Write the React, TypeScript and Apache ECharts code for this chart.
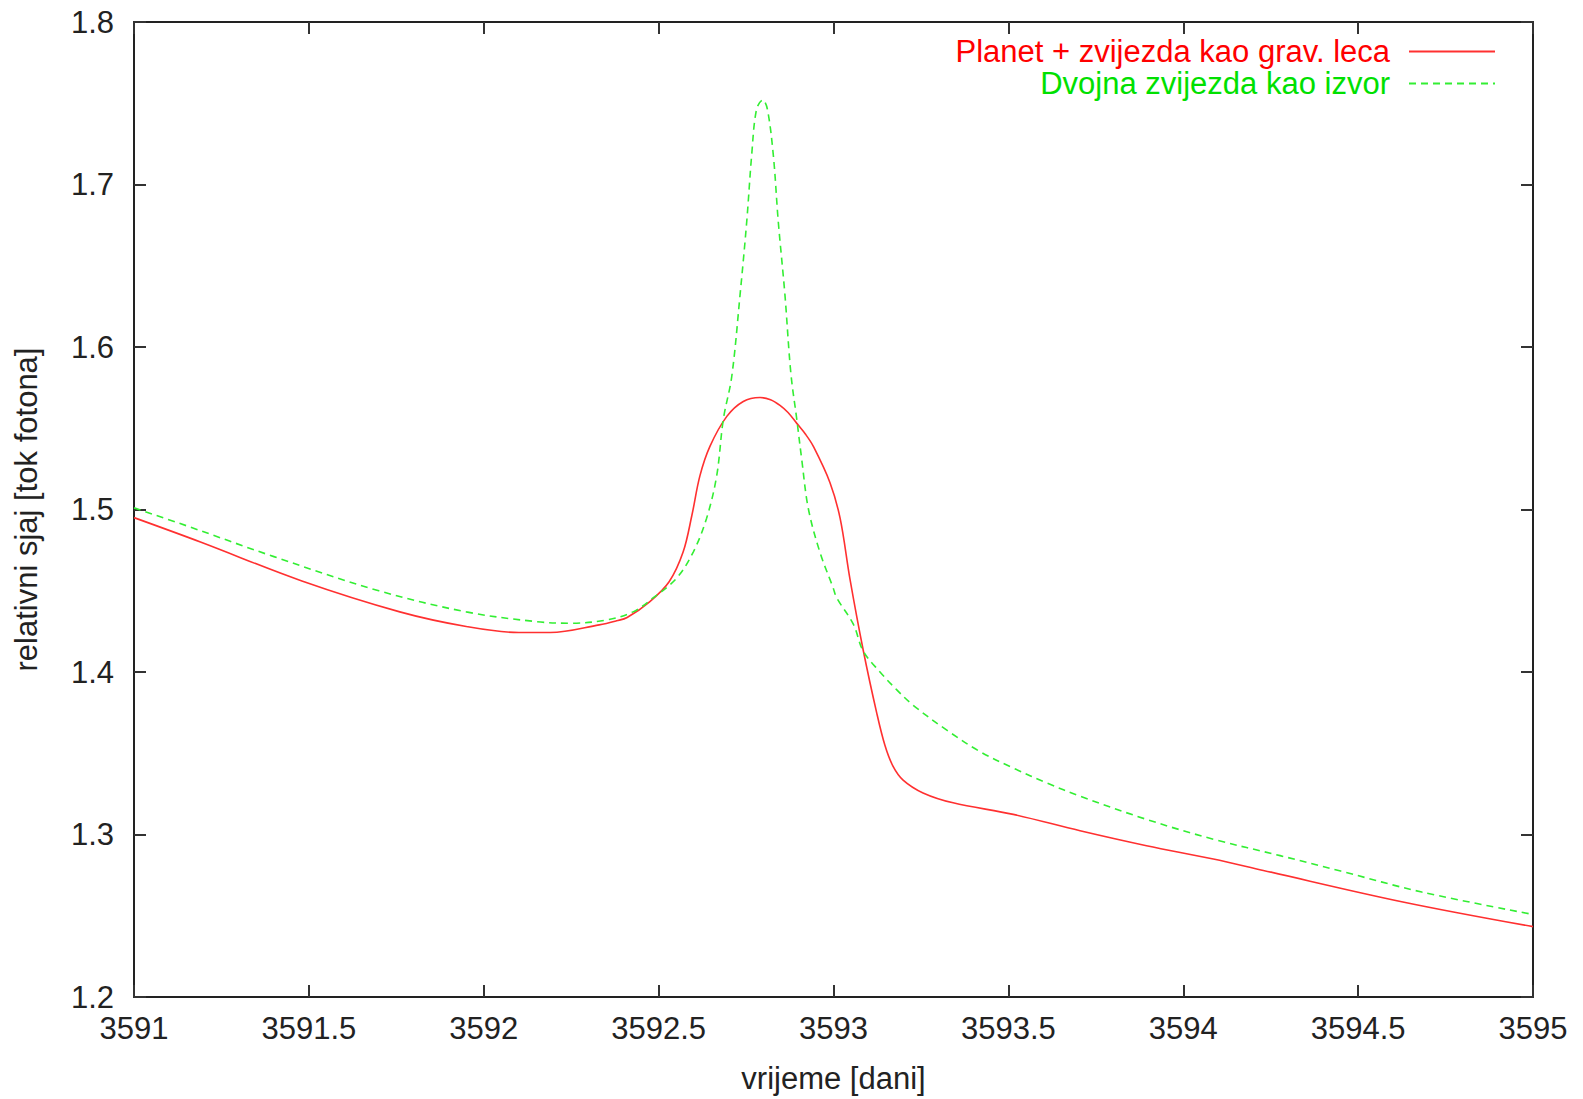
import React, { useEffect, useRef } from "react";
import * as echarts from "echarts";

const redName = "Planet + zvijezda kao grav. leca";
const greenName = "Dvojna zvijezda kao izvor";

const redT = [3591.0, 3591.19, 3591.48, 3591.76, 3591.95, 3592.1, 3592.19, 3592.33, 3592.38, 3592.41, 3592.475, 3592.53, 3592.57, 3592.595, 3592.618, 3592.647, 3592.695, 3592.742, 3592.79, 3592.82, 3592.847, 3592.87, 3592.895, 3592.92, 3592.942, 3592.99, 3593.019, 3593.047, 3593.085, 3593.124, 3593.147, 3593.17, 3593.199, 3593.256, 3593.342, 3593.514, 3593.705, 3593.895, 3594.086, 3594.229, 3594.628, 3595.0];
const redV = [1.495, 1.48, 1.456, 1.437, 1.428, 1.4243, 1.4243, 1.429, 1.4315, 1.4335, 1.4433, 1.4555, 1.4738, 1.4963, 1.5207, 1.539, 1.5573, 1.5665, 1.5689, 1.5676, 1.5641, 1.5597, 1.553, 1.5463, 1.539, 1.5165, 1.4945, 1.4573, 1.4134, 1.3744, 1.3549, 1.3421, 1.3335, 1.3256, 1.3195, 1.3124, 1.3023, 1.2931, 1.2849, 1.2779, 1.2585, 1.2433];

const greenT = [3591.0, 3591.15, 3591.4, 3591.7, 3591.95, 3592.15, 3592.25, 3592.35, 3592.427, 3592.485, 3592.552, 3592.599, 3592.637, 3592.666, 3592.685, 3592.709, 3592.733, 3592.752, 3592.766, 3592.78, 3592.798, 3592.811, 3592.828, 3592.842, 3592.861, 3592.878, 3592.895, 3592.909, 3592.928, 3592.961, 3592.999, 3593.009, 3593.057, 3593.085, 3593.133, 3593.181, 3593.228, 3593.324, 3593.419, 3593.514, 3593.61, 3593.705, 3593.895, 3594.086, 3594.277, 3594.45, 3594.682, 3595.0];
const greenV = [1.501, 1.49, 1.471, 1.45, 1.437, 1.431, 1.43, 1.432, 1.437, 1.4457, 1.4579, 1.4738, 1.4945, 1.5207, 1.5555, 1.5817, 1.6325, 1.6774, 1.7179, 1.7463, 1.752, 1.7463, 1.7179, 1.6774, 1.6325, 1.584, 1.5555, 1.5311, 1.5006, 1.4738, 1.4518, 1.4457, 1.4293, 1.4128, 1.4, 1.389, 1.3795, 1.3642, 1.351, 1.3409, 1.3317, 1.3236, 1.3093, 1.2971, 1.287, 1.2775, 1.2646, 1.2508];

const xTicks = { min: 3591, max: 3595, interval: 0.5 };
const yTicks = { min: 1.2, max: 1.8, interval: 0.1 };

const FONT = "'Liberation Sans', Arial, Helvetica, sans-serif";

export default function App() {
  const ref = useRef<HTMLDivElement>(null);
  useEffect(() => {
    if (!ref.current) return;
    const chart = echarts.init(ref.current, null, { renderer: "svg" });
    const axisLine = { show: true, lineStyle: { color: "#222", width: 2 } };
    const tick = { show: true, inside: true, length: 12, lineStyle: { color: "#333", width: 2 } };
    const fmt1 = (v: number) => String(+v.toFixed(1));
    const legendBase = {
      orient: "vertical",
      right: 87,
      align: "right",
      itemWidth: 86,
      itemHeight: 14,
      itemGap: 0,
      padding: 0,
      selectedMode: false,
      itemStyle: { opacity: 0 },
    };
    const option: any = {
      animation: false,
      backgroundColor: "#ffffff",
      textStyle: { fontFamily: FONT },
      grid: { left: 134, right: 50, top: 22, bottom: 93, containLabel: false },
      legend: [
        {
          ...legendBase,
          data: [redName],
          top: 36,
          textStyle: { color: "#ff0000", fontSize: 31, fontFamily: FONT, padding: [0, 14, 0, 0] },
        },
        {
          ...legendBase,
          data: [greenName],
          top: 68,
          textStyle: { color: "#00e000", fontSize: 31, fontFamily: FONT, padding: [0, 14, 0, 0] },
        },
      ],
      xAxis: [
        {
          type: "value",
          min: xTicks.min,
          max: xTicks.max,
          interval: xTicks.interval,
          name: "vrijeme [dani]",
          nameLocation: "middle",
          nameGap: 66,
          nameTextStyle: { fontSize: 31, color: "#222", fontFamily: FONT },
          axisLine,
          axisTick: tick,
          splitLine: { show: false },
          axisLabel: { fontSize: 31, color: "#222", margin: 16, formatter: fmt1, fontFamily: FONT },
        },
        {
          type: "value",
          position: "top",
          min: xTicks.min,
          max: xTicks.max,
          interval: xTicks.interval,
          axisLine,
          axisTick: tick,
          splitLine: { show: false },
          axisLabel: { show: false },
        },
      ],
      yAxis: [
        {
          type: "value",
          min: yTicks.min,
          max: yTicks.max,
          interval: yTicks.interval,
          name: "relativni sjaj [tok fotona]",
          nameLocation: "middle",
          nameRotate: 90,
          nameGap: 92,
          nameTextStyle: { fontSize: 31, color: "#222", fontFamily: FONT },
          axisLine,
          axisTick: tick,
          splitLine: { show: false },
          axisLabel: { fontSize: 31, color: "#222", margin: 20, formatter: fmt1, fontFamily: FONT },
        },
        {
          type: "value",
          position: "right",
          min: yTicks.min,
          max: yTicks.max,
          interval: yTicks.interval,
          axisLine,
          axisTick: tick,
          splitLine: { show: false },
          axisLabel: { show: false },
        },
      ],
      series: [
        {
          name: redName,
          type: "line",
          xAxisIndex: 0,
          yAxisIndex: 0,
          data: redT.map((t, i) => [t, redV[i]]),
          symbol: "none",
          smooth: 0.35,
          color: "#ff3030",
          lineStyle: { color: "#ff3030", width: 1.6 },
        },
        {
          name: greenName,
          type: "line",
          xAxisIndex: 0,
          yAxisIndex: 0,
          data: greenT.map((t, i) => [t, greenV[i]]),
          symbol: "none",
          smooth: 0.35,
          color: "#33ee33",
          lineStyle: { color: "#33ee33", width: 1.6, type: [7, 5] },
        },
      ],
    };
    chart.setOption(option);
    return () => chart.dispose();
  }, []);
  return (
    <div
      ref={ref}
      style={{ position: "fixed", left: 0, top: 0, width: 1583, height: 1099, background: "#fff" }}
    />
  );
}
